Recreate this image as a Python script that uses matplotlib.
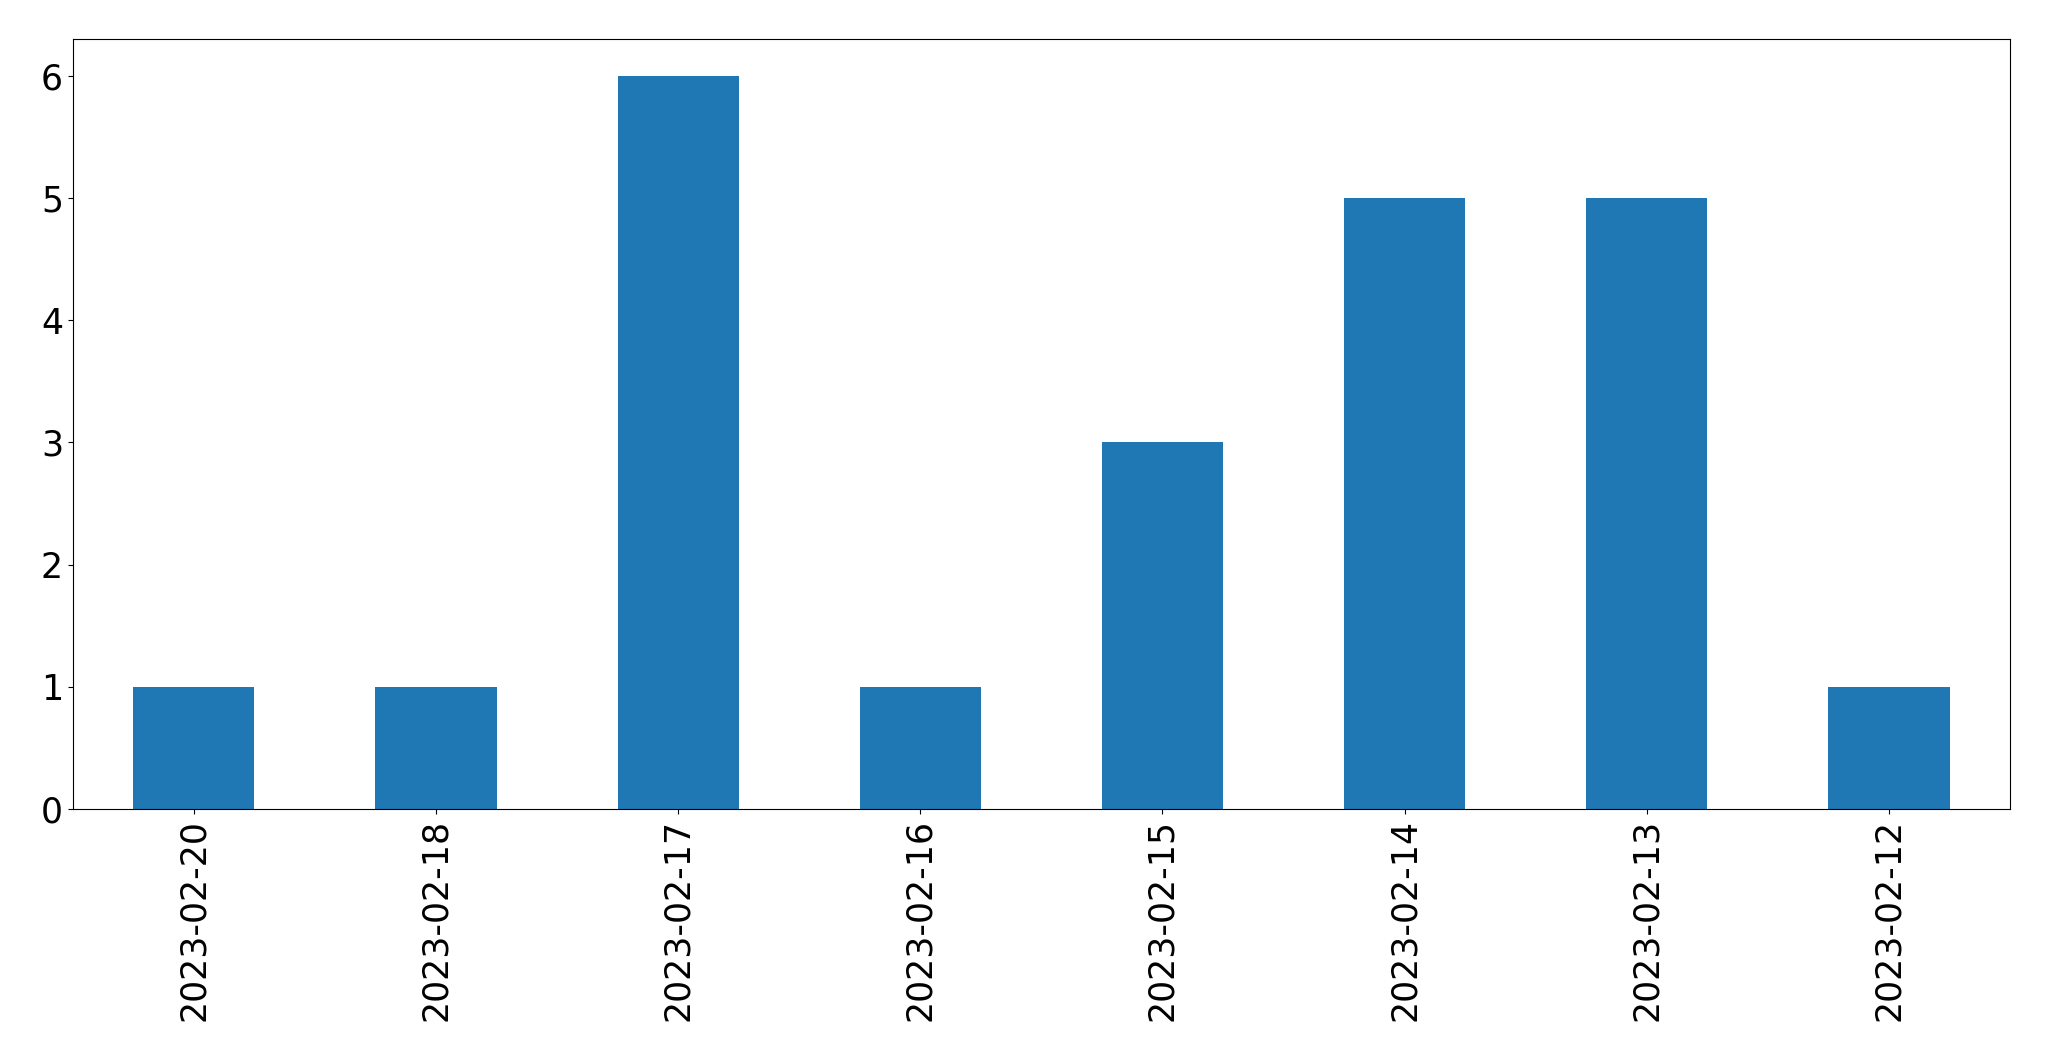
import matplotlib
matplotlib.use("Agg")
import matplotlib.pyplot as plt
import pandas as pd

dates = ["2023-02-20", "2023-02-18", "2023-02-17", "2023-02-16",
         "2023-02-15", "2023-02-14", "2023-02-13", "2023-02-12"]
counts = [1, 1, 6, 1, 3, 5, 5, 1]

s = pd.Series(counts, index=dates)
fig = plt.figure(figsize=(20.49, 10.61), dpi=100)
ax = fig.add_axes([0.0355, 0.2375, 0.9455, 0.7255])
s.plot(kind="bar", ax=ax, color="#1f77b4")
ax.tick_params(axis="both", labelsize=25)
fig.savefig("out.png", dpi=100)
